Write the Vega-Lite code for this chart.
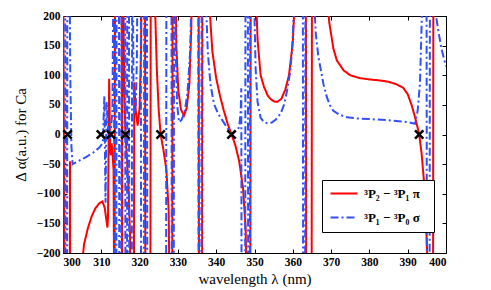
{
  "$schema": "https://vega.github.io/schema/vega-lite/v6.json",
  "width": 383,
  "height": 237,
  "autosize": {"type": "none"},
  "padding": {"left": 63, "top": 16, "right": 45, "bottom": 37},
  "background": "white",
  "config": {"view": {"stroke": "black", "strokeWidth": 1}, "font": "Times New Roman, Liberation Serif, DejaVu Serif, serif"},
  "datasets": {
    "curves": [
      {"s":"pi","x":300.0,"y":400},{"s":"pi","x":300.45,"y":-400},{"s":"pi","x":301.75,"y":-400},{"s":"pi","x":301.82,"y":-45},{"s":"pi","x":301.9,"y":-400},
      {"s":"pi","x":304.8,"y":-230},{"s":"pi","x":305.5,"y":-185},{"s":"pi","x":306.5,"y":-158},{"s":"pi","x":307.5,"y":-138},{"s":"pi","x":308.5,"y":-124},
      {"s":"pi","x":309.5,"y":-116},{"s":"pi","x":310.3,"y":-113},{"s":"pi","x":310.9,"y":-124},{"s":"pi","x":311.3,"y":-143},{"s":"pi","x":311.6,"y":-157},
      {"s":"pi","x":311.75,"y":-140},{"s":"pi","x":312.05,"y":94},{"s":"pi","x":312.3,"y":-25},{"s":"pi","x":312.5,"y":-35},{"s":"pi","x":312.7,"y":-15},
      {"s":"pi","x":312.9,"y":-30},{"s":"pi","x":313.2,"y":-60},{"s":"pi","x":313.45,"y":-400},{"s":"pi","x":313.6,"y":400},{"s":"pi","x":315.3,"y":400},
      {"s":"pi","x":315.42,"y":-400},{"s":"pi","x":315.55,"y":400},{"s":"pi","x":315.8,"y":200},{"s":"pi","x":316.0,"y":80},{"s":"pi","x":316.3,"y":0},
      {"s":"pi","x":316.7,"y":-40},{"s":"pi","x":317.1,"y":-90},{"s":"pi","x":317.5,"y":-170},{"s":"pi","x":317.8,"y":-400},{"s":"pi","x":318.5,"y":-400},
      {"s":"pi","x":318.6,"y":88},{"s":"pi","x":319.0,"y":40},{"s":"pi","x":319.5,"y":15},{"s":"pi","x":320.0,"y":45},{"s":"pi","x":320.4,"y":150},
      {"s":"pi","x":320.65,"y":400},{"s":"pi","x":321.4,"y":400},{"s":"pi","x":321.52,"y":-400},{"s":"pi","x":322.8,"y":-400},{"s":"pi","x":322.92,"y":400},
      {"s":"pi","x":323.8,"y":400},{"s":"pi","x":324.1,"y":200},{"s":"pi","x":324.5,"y":110},{"s":"pi","x":325.0,"y":40},{"s":"pi","x":325.5,"y":0},
      {"s":"pi","x":326.2,"y":-25},{"s":"pi","x":327.0,"y":-60},{"s":"pi","x":327.6,"y":-130},{"s":"pi","x":328.0,"y":-400},{"s":"pi","x":328.5,"y":-400},
      {"s":"pi","x":328.65,"y":400},{"s":"pi","x":329.2,"y":400},{"s":"pi","x":329.6,"y":150},{"s":"pi","x":330.1,"y":75},{"s":"pi","x":330.8,"y":42},
      {"s":"pi","x":331.6,"y":32},{"s":"pi","x":332.3,"y":45},{"s":"pi","x":333.0,"y":85},{"s":"pi","x":333.5,"y":180},{"s":"pi","x":333.9,"y":400},
      {"s":"pi","x":335.4,"y":400},{"s":"pi","x":335.52,"y":-400},{"s":"pi","x":336.3,"y":-400},{"s":"pi","x":336.42,"y":400},{"s":"pi","x":337.8,"y":400},
      {"s":"pi","x":338.2,"y":220},{"s":"pi","x":339.0,"y":140},{"s":"pi","x":340.0,"y":95},{"s":"pi","x":341.0,"y":65},{"s":"pi","x":342.0,"y":40},
      {"s":"pi","x":343.0,"y":18},{"s":"pi","x":344.0,"y":0},{"s":"pi","x":345.0,"y":-18},{"s":"pi","x":346.0,"y":-45},{"s":"pi","x":347.0,"y":-90},
      {"s":"pi","x":347.7,"y":-160},{"s":"pi","x":348.2,"y":-400},{"s":"pi","x":348.9,"y":-400},{"s":"pi","x":349.02,"y":400},{"s":"pi","x":349.9,"y":400},
      {"s":"pi","x":350.3,"y":250},{"s":"pi","x":350.8,"y":160},{"s":"pi","x":351.6,"y":100},{"s":"pi","x":352.5,"y":80},{"s":"pi","x":353.5,"y":65},
      {"s":"pi","x":354.2,"y":60},{"s":"pi","x":355.0,"y":56},{"s":"pi","x":355.9,"y":55},{"s":"pi","x":357.0,"y":60},{"s":"pi","x":358.0,"y":75},
      {"s":"pi","x":359.0,"y":100},{"s":"pi","x":360.0,"y":155},{"s":"pi","x":360.6,"y":240},{"s":"pi","x":361.1,"y":400},{"s":"pi","x":363.4,"y":400},
      {"s":"pi","x":363.52,"y":-400},{"s":"pi","x":364.9,"y":-400},{"s":"pi","x":365.02,"y":400},{"s":"pi","x":368.3,"y":400},{"s":"pi","x":368.8,"y":250},
      {"s":"pi","x":369.5,"y":190},{"s":"pi","x":370.6,"y":145},{"s":"pi","x":371.5,"y":125},{"s":"pi","x":373.3,"y":108},{"s":"pi","x":375.0,"y":100},
      {"s":"pi","x":377.6,"y":95},{"s":"pi","x":380.0,"y":93},{"s":"pi","x":383.0,"y":91},{"s":"pi","x":385.0,"y":89},{"s":"pi","x":387.0,"y":85},
      {"s":"pi","x":388.8,"y":79},{"s":"pi","x":390.0,"y":68},{"s":"pi","x":391.0,"y":50},{"s":"pi","x":391.8,"y":32},{"s":"pi","x":392.5,"y":14},
      {"s":"pi","x":393.0,"y":0},{"s":"pi","x":393.6,"y":-30},{"s":"pi","x":394.2,"y":-75},{"s":"pi","x":394.7,"y":-135},{"s":"pi","x":395.2,"y":-220},
      {"s":"pi","x":395.6,"y":-400},{"s":"pi","x":396.6,"y":-400},{"s":"pi","x":396.72,"y":400},{"s":"pi","x":400.0,"y":400},

      {"s":"sigma","x":300.0,"y":400},{"s":"sigma","x":300.55,"y":400},{"s":"sigma","x":300.65,"y":-400},{"s":"sigma","x":301.05,"y":-400},{"s":"sigma","x":301.15,"y":400},
      {"s":"sigma","x":301.6,"y":400},{"s":"sigma","x":301.9,"y":100},{"s":"sigma","x":302.2,"y":-20},{"s":"sigma","x":302.5,"y":-50},{"s":"sigma","x":304.0,"y":-45},
      {"s":"sigma","x":306.0,"y":-38},{"s":"sigma","x":308.0,"y":-30},{"s":"sigma","x":309.5,"y":-22},{"s":"sigma","x":310.4,"y":-14},{"s":"sigma","x":310.8,"y":65},
      {"s":"sigma","x":311.1,"y":-115},{"s":"sigma","x":311.4,"y":55},{"s":"sigma","x":311.8,"y":5},{"s":"sigma","x":312.3,"y":-10},{"s":"sigma","x":312.9,"y":40},
      {"s":"sigma","x":313.3,"y":400},{"s":"sigma","x":313.42,"y":-400},{"s":"sigma","x":313.9,"y":-400},{"s":"sigma","x":314.02,"y":400},{"s":"sigma","x":314.6,"y":400},
      {"s":"sigma","x":314.72,"y":-400},{"s":"sigma","x":315.2,"y":-400},{"s":"sigma","x":315.32,"y":400},{"s":"sigma","x":316.2,"y":400},{"s":"sigma","x":316.32,"y":-400},
      {"s":"sigma","x":316.7,"y":-400},{"s":"sigma","x":316.82,"y":400},{"s":"sigma","x":317.2,"y":400},{"s":"sigma","x":317.32,"y":-400},{"s":"sigma","x":317.95,"y":-400},
      {"s":"sigma","x":318.07,"y":400},{"s":"sigma","x":318.4,"y":90},{"s":"sigma","x":318.7,"y":35},{"s":"sigma","x":319.0,"y":45},{"s":"sigma","x":319.3,"y":130},
      {"s":"sigma","x":319.55,"y":400},{"s":"sigma","x":320.3,"y":400},{"s":"sigma","x":320.42,"y":-400},{"s":"sigma","x":321.1,"y":-400},{"s":"sigma","x":321.22,"y":400},
      {"s":"sigma","x":321.9,"y":400},{"s":"sigma","x":322.02,"y":-400},{"s":"sigma","x":326.9,"y":-400},{"s":"sigma","x":327.02,"y":400},{"s":"sigma","x":328.3,"y":400},
      {"s":"sigma","x":328.42,"y":-400},{"s":"sigma","x":328.9,"y":-400},{"s":"sigma","x":329.02,"y":400},{"s":"sigma","x":329.4,"y":150},{"s":"sigma","x":329.8,"y":50},
      {"s":"sigma","x":330.3,"y":21},{"s":"sigma","x":331.0,"y":25},{"s":"sigma","x":331.8,"y":40},{"s":"sigma","x":332.5,"y":70},{"s":"sigma","x":333.2,"y":140},
      {"s":"sigma","x":333.6,"y":250},{"s":"sigma","x":333.9,"y":400},{"s":"sigma","x":335.3,"y":400},{"s":"sigma","x":335.42,"y":-400},{"s":"sigma","x":336.1,"y":-400},
      {"s":"sigma","x":336.22,"y":400},{"s":"sigma","x":336.9,"y":400},{"s":"sigma","x":337.3,"y":230},{"s":"sigma","x":337.8,"y":140},{"s":"sigma","x":338.5,"y":85},
      {"s":"sigma","x":339.4,"y":52},{"s":"sigma","x":340.5,"y":35},{"s":"sigma","x":342.0,"y":20},{"s":"sigma","x":343.0,"y":10},{"s":"sigma","x":344.0,"y":0},
      {"s":"sigma","x":345.0,"y":5},{"s":"sigma","x":346.0,"y":12},{"s":"sigma","x":346.4,"y":40},{"s":"sigma","x":346.55,"y":78},{"s":"sigma","x":346.65,"y":-400},
      {"s":"sigma","x":347.55,"y":-400},{"s":"sigma","x":347.67,"y":400},{"s":"sigma","x":348.25,"y":400},{"s":"sigma","x":348.37,"y":-400},{"s":"sigma","x":348.8,"y":-400},
      {"s":"sigma","x":348.92,"y":400},{"s":"sigma","x":349.6,"y":400},{"s":"sigma","x":349.9,"y":230},{"s":"sigma","x":350.3,"y":110},{"s":"sigma","x":350.8,"y":55},
      {"s":"sigma","x":351.6,"y":28},{"s":"sigma","x":352.5,"y":21},{"s":"sigma","x":353.3,"y":19},{"s":"sigma","x":354.5,"y":20},{"s":"sigma","x":355.5,"y":25},
      {"s":"sigma","x":356.8,"y":35},{"s":"sigma","x":357.8,"y":52},{"s":"sigma","x":358.5,"y":74},{"s":"sigma","x":359.3,"y":105},{"s":"sigma","x":359.8,"y":142},
      {"s":"sigma","x":360.4,"y":220},{"s":"sigma","x":360.9,"y":400},{"s":"sigma","x":362.6,"y":400},{"s":"sigma","x":362.72,"y":-400},{"s":"sigma","x":363.2,"y":-400},
      {"s":"sigma","x":363.32,"y":400},{"s":"sigma","x":364.9,"y":400},{"s":"sigma","x":365.3,"y":260},{"s":"sigma","x":366.0,"y":170},{"s":"sigma","x":366.7,"y":130},
      {"s":"sigma","x":367.2,"y":113},{"s":"sigma","x":368.0,"y":85},{"s":"sigma","x":368.9,"y":63},{"s":"sigma","x":369.8,"y":48},{"s":"sigma","x":370.6,"y":40},
      {"s":"sigma","x":372.0,"y":34},{"s":"sigma","x":374.1,"y":29},{"s":"sigma","x":377.0,"y":27},{"s":"sigma","x":380.0,"y":26},{"s":"sigma","x":385.0,"y":24},
      {"s":"sigma","x":390.0,"y":21},{"s":"sigma","x":391.9,"y":18},{"s":"sigma","x":392.6,"y":40},{"s":"sigma","x":393.2,"y":86},{"s":"sigma","x":393.7,"y":200},
      {"s":"sigma","x":394.0,"y":400},{"s":"sigma","x":394.9,"y":400},{"s":"sigma","x":395.02,"y":-400},{"s":"sigma","x":395.7,"y":-400},{"s":"sigma","x":395.82,"y":400},
      {"s":"sigma","x":397.1,"y":400},{"s":"sigma","x":397.4,"y":200},{"s":"sigma","x":398.0,"y":175},{"s":"sigma","x":398.8,"y":145},{"s":"sigma","x":400.0,"y":115}
    ],
    "magic": [
      {"x":301.2,"y":0},{"x":309.9,"y":0},{"x":312.5,"y":0},{"x":316.3,"y":0},{"x":325.5,"y":0},{"x":344.0,"y":0},{"x":393.0,"y":0}
    ]
  },
  "layer": [
    {
      "data": {"name": "curves"},
      "mark": {"type": "line", "clip": true, "strokeWidth": 2},
      "encoding": {
        "x": {"field": "x", "type": "quantitative",
          "scale": {"domain": [300, 400], "nice": false, "zero": false},
          "axis": {"orient": "bottom", "values": [300,310,320,330,340,350,360,370,380,390,400], "grid": false,
            "domainColor": "black", "tickColor": "black", "tickSize": -4, "labelPadding": 7,
            "labelFont": "Times New Roman, Liberation Serif, DejaVu Serif, serif", "labelFontWeight": "bold", "labelFontSize": 11.5, "labelColor": "black",
            "title": "wavelength λ (nm)", "titleFont": "Times New Roman, Liberation Serif, DejaVu Serif, serif", "titleFontWeight": "normal", "titleFontSize": 15, "titleColor": "black", "titlePadding": 4}},
        "y": {"field": "y", "type": "quantitative",
          "scale": {"domain": [-200, 200], "nice": false, "zero": false},
          "axis": {"orient": "left", "values": [-200,-150,-100,-50,0,50,100,150,200], "grid": false,
            "domainColor": "black", "tickColor": "black", "tickSize": -4, "labelPadding": 7,
            "labelFont": "Times New Roman, Liberation Serif, DejaVu Serif, serif", "labelFontWeight": "bold", "labelFontSize": 11.5, "labelColor": "black",
            "title": "Δ α(a.u.) for Ca", "titleFont": "Times New Roman, Liberation Serif, DejaVu Serif, serif", "titleFontWeight": "normal", "titleFontSize": 15, "titleColor": "black", "titlePadding": 8}},
        "color": {"field": "s", "type": "nominal",
          "scale": {"domain": ["pi", "sigma"], "range": ["#ff0000", "#3050f8"]},
          "legend": {"title": null, "orient": "none", "legendX": 259, "legendY": 164, "padding": 7,
            "strokeColor": "black", "fillColor": "white", "rowPadding": 10, "symbolType": "M-1,0L4.4,0", "symbolSize": 100, "symbolStrokeWidth": 2, "labelOffset": 22,
            "labelFont": "Times New Roman, Liberation Serif, DejaVu Serif, serif", "labelFontWeight": "bold", "labelFontSize": 13, "labelColor": "black",
            "labelExpr": "datum.label == 'pi' ? '³P₂ − ³P₁   π' : '³P₁ − ³P₀   σ'"}},
        "strokeDash": {"field": "s", "type": "nominal",
          "scale": {"domain": ["pi", "sigma"], "range": [[1, 0], [8, 3, 2, 3]]},
          "legend": {"title": null, "orient": "none", "legendX": 259, "legendY": 164, "padding": 7,
            "strokeColor": "black", "fillColor": "white", "rowPadding": 10, "symbolType": "M-1,0L4.4,0", "symbolSize": 100, "symbolStrokeWidth": 2, "labelOffset": 22,
            "labelFont": "Times New Roman, Liberation Serif, DejaVu Serif, serif", "labelFontWeight": "bold", "labelFontSize": 13, "labelColor": "black",
            "labelExpr": "datum.label == 'pi' ? '³P₂ − ³P₁   π' : '³P₁ − ³P₀   σ'"}}
      }
    },
    {
      "data": {"name": "magic"},
      "mark": {"type": "point", "shape": "M-1,-1L1,1M1,-1L-1,1", "filled": false, "stroke": "black", "strokeWidth": 2.5, "size": 70, "opacity": 1},
      "encoding": {
        "x": {"field": "x", "type": "quantitative",
          "axis": {"orient": "top", "values": [300,310,320,330,340,350,360,370,380,390,400], "labels": false, "title": null, "grid": false,
            "domainColor": "black", "tickColor": "black", "tickSize": -4}},
        "y": {"field": "y", "type": "quantitative",
          "axis": {"orient": "right", "values": [-200,-150,-100,-50,0,50,100,150,200], "labels": false, "title": null, "grid": false,
            "domainColor": "black", "tickColor": "black", "tickSize": -4}}
      }
    }
  ],
  "resolve": {"axis": {"x": "independent", "y": "independent"}}
}
